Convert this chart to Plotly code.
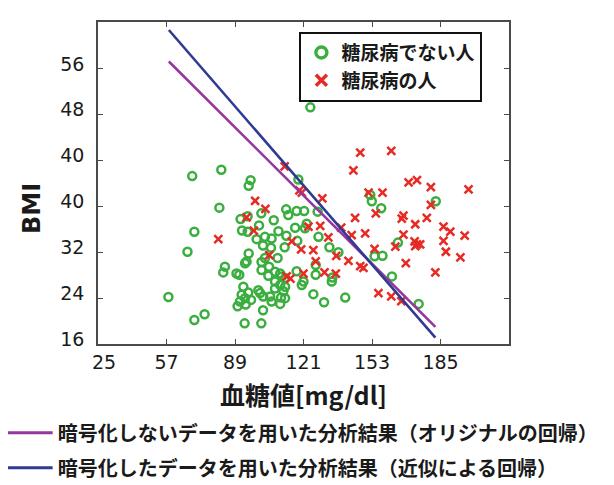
import plotly.graph_objects as go

# ---- data ----
green_glucose = [69.0, 82.6, 96.3, 95.4, 81.7, 70.0, 66.8, 57.9, 70.0, 74.8, 93.5, 101.3, 102.1, 124.2,
                 84.3, 83.5, 89.7, 91.0, 91.6, 94.9, 101.3, 107.1, 92.3, 94.9, 100.2, 99.1, 103.0, 106.1,
                 109.3, 112.9, 113.9, 117.8, 121.3, 117.1, 113.0, 118.1, 102.1, 105.8, 112.2, 95.4, 94.4,
                 93.7, 101.4, 103.0, 108.9, 104.9, 101.4, 107.7, 110.1, 104.6, 110.8, 117.8, 107.7, 110.1,
                 112.4, 121.0, 107.7, 112.4, 92.9, 95.2, 92.1, 93.7, 96.5, 91.3, 94.0, 90.2, 99.9, 100.7,
                 102.2, 105.4, 106.1, 110.5, 110.1, 112.4, 120.2, 122.5, 121.7, 118.6, 111.6,
                 128.0, 127.6, 126.7, 126.7, 130.6, 125.6, 134.2, 137.3, 140.5, 133.1, 134.5, 152.2, 152.9,
                 157.3, 154.2, 157.9, 165.1, 162.3, 174.8, 182.8]
green_bmi = [45.3, 46.4, 44.6, 43.6, 39.8, 35.6, 32.1, 24.2, 20.2, 21.2, 19.6, 19.6, 21.9, 57.3,
             29.5, 28.5, 28.3, 28.1, 37.8, 38.3, 38.8, 37.6, 35.8, 35.6, 36.7, 34.3, 34.7, 34.4,
             35.7, 39.5, 38.5, 39.2, 39.2, 36.3, 34.9, 34.0, 33.2, 32.8, 32.9, 31.8, 30.4,
             30.1, 30.3, 31.0, 31.0, 29.5, 28.9, 28.6, 28.3, 27.9, 27.8, 28.7, 26.9, 26.3,
             27.5, 26.9, 25.7, 26.0, 26.0, 25.0, 24.6, 24.0, 23.7, 23.4, 22.9, 22.6, 25.4, 24.9,
             24.3, 24.3, 23.4, 24.1, 23.0, 24.0, 26.3, 37.0, 36.2, 44.7, 25.2,
             34.7, 39.1, 29.8, 28.1, 23.3, 24.7, 26.9, 32.0, 24.1, 32.9, 27.6, 42.0, 40.9,
             39.7, 31.3, 31.4, 33.7, 27.8, 23.0, 40.9]

red_glucose = [81.2, 94.4, 98.4, 103.2, 97.8, 105.0, 112.2, 115.5, 119.9, 113.1, 114.9, 121.0, 119.1,
               120.2, 129.8, 123.3, 128.8, 132.6, 125.6, 126.7, 130.8, 136.1, 136.3, 138.6, 143.5,
               145.1, 142.0, 147.5, 149.0, 144.3, 147.5, 162.0, 151.4, 157.9, 154.8, 149.8, 154.2,
               156.0, 162.0, 166.7, 163.9, 167.7, 166.9, 167.7, 173.2, 178.6, 168.8, 170.1, 174.0,
               180.5, 180.5, 172.9, 174.0, 175.5, 173.2, 186.4, 189.6, 186.4, 187.5, 196.3, 194.3,
               182.6, 198.1]
red_bmi = [34.3, 38.1, 41.0, 39.6, 35.8, 31.5, 47.0, 33.9, 32.5, 27.8, 27.4, 28.3, 42.8,
           42.4, 41.4, 36.5, 36.6, 34.6, 32.4, 30.4, 28.5, 28.3, 31.4, 36.3, 35.0,
           38.0, 30.5, 29.6, 29.3, 46.3, 49.4, 49.7, 42.4, 42.4, 38.8, 35.3, 32.6,
           24.9, 24.3, 23.5, 33.0, 35.1, 37.9, 38.4, 36.9, 38.0, 30.1, 44.2, 44.6,
           43.4, 40.3, 33.9, 33.4, 33.4, 33.1, 36.5, 35.6, 34.0, 32.1, 34.9, 31.1,
           28.5, 43.0]

reg_glucose = [58.1, 182.6]
orig_reg_bmi = [65.3, 19.0]     # purple line
approx_reg_bmi = [70.8, 17.1]   # blue line

x_tickvals = [25, 57, 89, 121, 153, 185]
x_ticktext = ["&nbsp;&nbsp;25", "57", "89", "121", "153", "185"]
y_tickvals = [16, 24, 32, 40, 48, 56, 64]
y_ticktext = ["16", "24", "32", "40", "40", "48", "56"]

name_green = "糖尿病でない人"
name_red = "糖尿病の人"
name_purple = "暗号化しないデータを用いた分析結果（オリジナルの回帰）"
name_blue = "暗号化したデータを用いた分析結果（近似による回帰）"

GREEN = "#3aae3f"
RED = "#e52b24"
PURPLE = "#95379c"
BLUE = "#2e3a93"
JP = "Noto Sans CJK JP"

fig = go.Figure()

fig.add_trace(go.Scatter(x=green_glucose, y=green_bmi, mode="markers", showlegend=False,
                         marker=dict(symbol="circle-open", size=8, color=GREEN,
                                     line=dict(width=2.5, color=GREEN))))
fig.add_trace(go.Scatter(x=red_glucose, y=red_bmi, mode="markers", showlegend=False,
                         marker=dict(symbol="x-thin", size=8, color=RED,
                                     line=dict(width=2.5, color=RED))))
fig.add_trace(go.Scatter(x=reg_glucose, y=orig_reg_bmi, mode="lines", showlegend=False,
                         line=dict(color=PURPLE, width=2.6)))
fig.add_trace(go.Scatter(x=reg_glucose, y=approx_reg_bmi, mode="lines", showlegend=False,
                         line=dict(color=BLUE, width=2.6)))

# legend entries (top-right box)
fig.add_trace(go.Scatter(x=[None], y=[None], mode="markers", name=name_green, legend="legend",
                         marker=dict(symbol="circle-open", size=11, color=GREEN,
                                     line=dict(width=3.4, color=GREEN))))
fig.add_trace(go.Scatter(x=[None], y=[None], mode="markers", name=name_red, legend="legend",
                         marker=dict(symbol="x-thin", size=11, color=RED,
                                     line=dict(width=3.4, color=RED))))
# legend entries (bottom, lines)
fig.add_trace(go.Scatter(x=[None], y=[None], mode="lines", name=name_purple, legend="legend2",
                         legendgroup="p", line=dict(color=PURPLE, width=3)))
fig.add_trace(go.Scatter(x=[None], y=[None], mode="lines", name=name_blue, legend="legend2",
                         legendgroup="b", line=dict(color=BLUE, width=3)))

axis_common = dict(showline=True, linecolor="#4a4a4a", linewidth=1.5, mirror="ticks",
                   ticks="inside", ticklen=5, tickwidth=1.2, tickcolor="#4a4a4a",
                   showgrid=False, zeroline=False,
                   tickfont=dict(family="DejaVu Sans", size=19, color="#1a1a1a"))

fig.update_layout(
    width=614, height=485,
    margin=dict(l=90, r=113, t=14, b=149, autoexpand=False),
    paper_bgcolor="white", plot_bgcolor="white",
    xaxis=dict(range=[25, 217], tickmode="array", tickvals=x_tickvals, ticktext=x_ticktext,
               ticklabelstandoff=0, **axis_common),
    yaxis=dict(range=[16, 72.2], tickmode="array", tickvals=y_tickvals, ticktext=y_ticktext,
               ticklabelstandoff=8, ticklabelshift=-5, **axis_common),
    legend=dict(x=0.49, y=0.97, xanchor="left", yanchor="top",
                bgcolor="white", bordercolor="#111111", borderwidth=2,
                font=dict(family=JP, size=19, color="#1a1a1a", weight="bold"),
                itemwidth=30, tracegroupgap=0),
    legend2=dict(x=-0.232, y=-0.215, xanchor="left", yanchor="top",
                 bgcolor="rgba(0,0,0,0)", borderwidth=0, traceorder="grouped",
                 tracegroupgap=6,
                 font=dict(family=JP, size=20, color="#1a1a1a", weight="bold"),
                 itemwidth=45),
    annotations=[
        dict(text="BMI", xref="paper", yref="paper", x=-0.16, y=0.42,
             xanchor="center", yanchor="middle", textangle=-90, showarrow=False,
             font=dict(family="DejaVu Sans", size=24, color="#1a1a1a", weight="bold")),
        dict(text="血糖値[mg/dl]", xref="paper", yref="paper", x=0.5, y=-0.155,
             xanchor="center", yanchor="middle", showarrow=False,
             font=dict(family=JP, size=25, color="#1a1a1a", weight="bold")),
    ],
)

fig.write_html("out.html")
